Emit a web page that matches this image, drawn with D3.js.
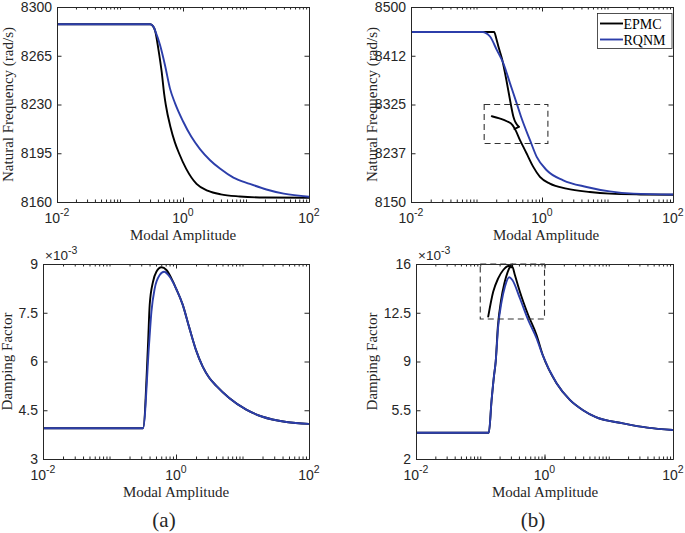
<!DOCTYPE html>
<html>
<head>
<meta charset="utf-8">
<script src="https://cdn.jsdelivr.net/npm/d3@7"></script>
<style>
  body { margin: 0; background: #fff; }
  svg { display: block; }
  .tick text { font-family: "Liberation Sans", Arial, sans-serif; font-size: 14px; fill: #262626; }
  .tick line, .domain { stroke: #262626; }
</style>
</head>
<body>
<div id="chart"></div>
<script>
// x axis (modal amplitude, log)
const xTickValues = [0.01, 1, 100];
const xTickExp = ['-2', '0', '2'];

// y ticks
const freqTicksA = [8160, 8195, 8230, 8265, 8300];
const freqLabelsA = ['8160', '8195', '8230', '8265', '8300'];
const freqTicksB = [8150, 8237.5, 8325, 8412.5, 8500];
const freqLabelsB = ['8150', '8237', '8325', '8412', '8500'];
const dampTicksA = [3, 4.5, 6, 7.5, 9];
const dampLabelsA = ['3', '4.5', '6', '7.5', '9'];
const dampTicksB = [2, 5.5, 9, 12.5, 16];
const dampLabelsB = ['2', '5.5', '9', '12.5', '16'];

// (a) natural frequency
const ampFreqA_epmc = [0.01, 0.302, 0.331, 0.361, 0.406, 0.460, 0.501, 0.532, 0.631, 0.741, 0.865, 1.12, 1.64, 2.51, 3.98, 7.94, 20.0, 100];
const freqA_epmc = [8287.6, 8287.6, 8286.5, 8283, 8270, 8253, 8238, 8230, 8214, 8203, 8195, 8184, 8173, 8168, 8165.5, 8164, 8163.2, 8163];
const ampFreqA_rqnm = [0.01, 0.302, 0.339, 0.361, 0.433, 0.519, 0.622, 0.746, 1.0, 1.35, 1.86, 2.69, 3.86, 6.31, 11.5, 21.1, 39.8, 100];
const freqA_rqnm = [8287.6, 8287.6, 8286, 8283, 8272.5, 8258, 8241.4, 8231, 8218, 8207, 8198, 8190, 8184, 8177.5, 8173, 8169, 8166, 8163.8];

// (a) damping factor (x 1e-3)
const ampDampA_epmc = [0.01, 0.319, 0.379, 0.402, 0.451, 0.507, 0.603, 0.718, 0.902, 1.0, 1.26, 1.58, 2.0, 2.51, 3.16, 4.04, 6.31, 11.4, 20.0, 45.6, 100];
const dampA_epmc = [3.944, 3.944, 6.5, 7.74, 8.455, 8.763, 8.898, 8.815, 8.455, 8.25, 7.75, 7.05, 6.35, 5.85, 5.5, 5.25, 4.88, 4.52, 4.3, 4.14, 4.08];
const ampDampA_rqnm = [0.01, 0.319, 0.393, 0.427, 0.479, 0.569, 0.661, 0.804, 1.0, 1.26, 1.58, 2.0, 2.51, 3.16, 4.04, 6.31, 11.4, 20.0, 45.6, 100];
const dampA_rqnm = [3.944, 3.944, 6.508, 7.532, 8.252, 8.662, 8.763, 8.609, 8.25, 7.75, 7.05, 6.35, 5.85, 5.5, 5.25, 4.88, 4.52, 4.3, 4.14, 4.08];

// (b) natural frequency: EPMC has an upper branch with a turning point and a lower branch
const ampFreqB_epmc1 = [0.01, 0.186, 0.200, 0.216, 0.245, 0.290, 0.325, 0.366, 0.442];
const freqB_epmc1 = [8455, 8455, 8444, 8429, 8407, 8365, 8333, 8303, 8285];
const ampFreqB_turn = [0.442, 0.380];
const freqB_turn = [8285, 8281];
const ampFreqB_epmc2 = [0.171, 0.224, 0.290, 0.355, 0.398, 0.461, 0.519, 0.583, 0.736, 0.931, 1.32, 2.37, 5.37, 10.8, 31.6, 100];
const freqB_epmc2 = [8304, 8300, 8295, 8288, 8278, 8261, 8249, 8237, 8213, 8195, 8183, 8174, 8168, 8165, 8163.5, 8163];
const ampFreqB_rqnm = [0.01, 0.126, 0.135, 0.161, 0.204, 0.257, 0.325, 0.411, 0.479, 0.656, 0.830, 1.18, 2.11, 4.79, 10.8, 25.1, 100];
const freqB_rqnm = [8455, 8455, 8454, 8447, 8423, 8399, 8363, 8327, 8303, 8261, 8231, 8207, 8189, 8177, 8169, 8165, 8163.5];

// (b) damping factor (x 1e-3)
const ampDampB_epmc1 = [0.01, 0.136, 0.150, 0.163, 0.174, 0.188, 0.211, 0.237, 0.266, 0.295, 0.316];
const dampB_epmc1 = [3.89, 3.89, 6.2, 7.9, 9.0, 11.5, 13.4, 14.6, 15.4, 15.85, 15.95];
const ampDampB_turn = [0.316, 0.302];
const dampB_turn = [15.95, 15.75];
const ampDampB_epmc2 = [0.133, 0.159, 0.190, 0.228, 0.275, 0.316, 0.346, 0.414, 0.557, 0.752, 0.933, 1.54, 2.48, 3.98, 6.31, 16.7, 39.8, 100];
const dampB_epmc2 = [12.22, 14.0, 14.97, 15.57, 15.86, 15.8, 15.21, 14.01, 12.34, 10.9, 9.5, 7.43, 6.24, 5.5, 5.0, 4.56, 4.25, 4.08];
const ampDampB_rqnm = [0.01, 0.136, 0.150, 0.163, 0.174, 0.190, 0.215, 0.242, 0.282, 0.316, 0.414, 0.557, 0.752, 0.933, 1.54, 2.48, 3.98, 6.31, 16.7, 39.8, 100];
const dampB_rqnm = [3.89, 3.89, 6.2, 7.9, 9.0, 11.5, 13.3, 14.37, 15.05, 14.85, 13.54, 11.98, 10.67, 9.47, 7.43, 6.24, 5.5, 5.0, 4.56, 4.25, 4.08];

// zoom boxes (amplitude range, value range)
const boxFreqB = [[0.131, 1.23], [8255, 8325]];
const boxDampB = [[0.1, 1.0], [12.05, 16]];

const legendNames = ['EPMC', 'RQNM'];
const colors = {EPMC: '#000000', RQNM: '#2c3eaa'};

const zip = (xs, ys) => xs.map((v, i) => ({x: v, y: ys[i]}));

const svg = d3.select('#chart').append('svg')
  .attr('width', 685)
  .attr('height', 533);

const panels = [
  {left: 57, right: 309, top: 7, bottom: 202, yDomain: [8160, 8300],
   yTicks: freqTicksA, yLabels: freqLabelsA, ytitle: 'Natural Frequency (rad/s)',
   titleX: 12.5, xtitleX: 183, xtitleY: 239.5,
   series: [
     {name: 'EPMC', pts: zip(ampFreqA_epmc, freqA_epmc)},
     {name: 'RQNM', pts: zip(ampFreqA_rqnm, freqA_rqnm)}]},
  {left: 411, right: 673, top: 7, bottom: 202, yDomain: [8150, 8500],
   yTicks: freqTicksB, yLabels: freqLabelsB, ytitle: 'Natural Frequency (rad/s)',
   titleX: 377, xtitleX: 546, xtitleY: 239.5, box: boxFreqB, legend: true,
   series: [
     {name: 'EPMC', pts: zip(ampFreqB_epmc1, freqB_epmc1)},
     {name: 'EPMC', pts: zip(ampFreqB_turn, freqB_turn), curve: d3.curveLinear},
     {name: 'EPMC', pts: zip(ampFreqB_epmc2, freqB_epmc2)},
     {name: 'RQNM', pts: zip(ampFreqB_rqnm, freqB_rqnm)}]},
  {left: 43, right: 309, top: 264, bottom: 459, yDomain: [3, 9],
   yTicks: dampTicksA, yLabels: dampLabelsA, ytitle: 'Damping Factor', exponent: true,
   titleX: 11.5, xtitleX: 176, xtitleY: 496.5, caption: '(a)', captionX: 164,
   series: [
     {name: 'EPMC', pts: zip(ampDampA_epmc, dampA_epmc)},
     {name: 'RQNM', pts: zip(ampDampA_rqnm, dampA_rqnm)}]},
  {left: 416, right: 673, top: 264, bottom: 459, yDomain: [2, 16],
   yTicks: dampTicksB, yLabels: dampLabelsB, ytitle: 'Damping Factor', exponent: true,
   titleX: 376.5, xtitleX: 545, xtitleY: 497, caption: '(b)', captionX: 533, box: boxDampB,
   series: [
     {name: 'EPMC', pts: zip(ampDampB_epmc1, dampB_epmc1)},
     {name: 'EPMC', pts: zip(ampDampB_turn, dampB_turn), curve: d3.curveLinear},
     {name: 'EPMC', pts: zip(ampDampB_epmc2, dampB_epmc2)},
     {name: 'RQNM', pts: zip(ampDampB_rqnm, dampB_rqnm)}]}
];

panels.forEach((p, pi) => {
  const x = d3.scaleLog().domain([0.01, 100]).range([p.left, p.right]);
  const y = d3.scaleLinear().domain(p.yDomain).range([p.bottom, p.top]);
  const g = svg.append('g');
  const minor = x.ticks();

  // clip
  svg.append('clipPath').attr('id', 'clip' + pi)
    .append('rect')
    .attr('x', p.left).attr('y', p.top - 1)
    .attr('width', p.right - p.left).attr('height', p.bottom - p.top + 1);

  // lines
  const plot = g.append('g').attr('clip-path', 'url(#clip' + pi + ')');
  p.series.forEach(s => {
    const line = d3.line()
      .x(d => x(d.x))
      .y(d => y(d.y))
      .curve(s.curve || d3.curveMonotoneX);
    plot.append('path')
      .attr('d', line(s.pts))
      .attr('fill', 'none')
      .attr('stroke', colors[s.name])
      .attr('stroke-width', 1.9)
      .attr('stroke-linejoin', 'round')
      .attr('stroke-linecap', 'round');
  });

  // axes: ticks inward on all four sides
  g.append('g').attr('transform', 'translate(0,' + p.bottom + ')')
    .call(d3.axisBottom(x).tickValues(minor).tickSizeInner(-2.5).tickSizeOuter(0).tickFormat(''));
  g.append('g').attr('transform', 'translate(0,' + p.top + ')')
    .call(d3.axisTop(x).tickValues(minor).tickSizeInner(-2.5).tickSizeOuter(0).tickFormat(''));
  g.append('g').attr('transform', 'translate(0,' + p.bottom + ')')
    .call(d3.axisBottom(x).tickValues(xTickValues).tickSizeInner(-4.5).tickSizeOuter(0).tickFormat(''));
  g.append('g').attr('transform', 'translate(0,' + p.top + ')')
    .call(d3.axisTop(x).tickValues(xTickValues).tickSizeInner(-4.5).tickSizeOuter(0).tickFormat(''));
  g.append('g').attr('transform', 'translate(' + p.left + ',0)')
    .call(d3.axisLeft(y).tickValues(p.yTicks).tickSizeInner(-4.5).tickSizeOuter(0).tickPadding(5)
      .tickFormat((d, i) => p.yLabels[i]));
  g.append('g').attr('transform', 'translate(' + p.right + ',0)')
    .call(d3.axisRight(y).tickValues(p.yTicks).tickSizeInner(-4.5).tickSizeOuter(0).tickFormat(''));

  // x tick labels 10^k
  g.selectAll('text.xl').data(xTickValues).join('text')
    .attr('class', 'xl')
    .attr('x', d => x(d))
    .attr('y', p.bottom + 21)
    .attr('text-anchor', 'middle')
    .attr('font-family', 'Liberation Sans, Arial, sans-serif')
    .attr('font-size', 14)
    .attr('fill', '#262626')
    .each(function(d, i) {
      const t = d3.select(this);
      t.append('tspan').text('10');
      t.append('tspan').attr('dy', -7).attr('font-size', 10.5).text(xTickExp[i]);
    });

  if (p.exponent) {
    const t = g.append('text')
      .attr('x', p.left + 2)
      .attr('y', p.top - 4)
      .attr('font-family', 'Liberation Sans, Arial, sans-serif')
      .attr('font-size', 13.5)
      .attr('fill', '#262626');
    t.append('tspan').text('\u00d710');
    t.append('tspan').attr('dy', -6).attr('font-size', 10.5).text('-3');
  }

  // dashed zoom box
  if (p.box) {
    g.append('rect')
      .attr('x', x(p.box[0][0]))
      .attr('y', y(p.box[1][1]))
      .attr('width', x(p.box[0][1]) - x(p.box[0][0]))
      .attr('height', y(p.box[1][0]) - y(p.box[1][1]))
      .attr('fill', 'none')
      .attr('stroke', '#333')
      .attr('stroke-width', 1.1)
      .attr('stroke-dasharray', '6,4');
  }

  // titles
  g.append('text')
    .attr('x', p.xtitleX).attr('y', p.xtitleY)
    .attr('text-anchor', 'middle')
    .attr('font-family', 'Liberation Serif, serif')
    .attr('font-size', 15)
    .attr('fill', '#262626')
    .text('Modal Amplitude');
  g.append('text')
    .attr('transform', 'translate(' + p.titleX + ',' + ((p.top + p.bottom) / 2) + ') rotate(-90)')
    .attr('text-anchor', 'middle')
    .attr('font-family', 'Liberation Serif, serif')
    .attr('font-size', 15)
    .attr('fill', '#262626')
    .text(p.ytitle);
  if (p.caption) {
    g.append('text')
      .attr('x', p.captionX).attr('y', 527)
      .attr('text-anchor', 'middle')
      .attr('font-family', 'Liberation Serif, serif')
      .attr('font-size', 21)
      .attr('fill', '#262626')
      .text(p.caption);
  }

  // legend
  if (p.legend) {
    const lg = g.append('g');
    lg.append('rect')
      .attr('x', 597.5).attr('y', 13.5)
      .attr('width', 74.5).attr('height', 35)
      .attr('fill', '#fff')
      .attr('stroke', '#262626')
      .attr('stroke-width', 0.8);
    legendNames.forEach((name, i) => {
      const yy = 23.5 + i * 16;
      lg.append('line')
        .attr('x1', 600).attr('x2', 623)
        .attr('y1', yy).attr('y2', yy)
        .attr('stroke', colors[name])
        .attr('stroke-width', 1.9);
      lg.append('text')
        .attr('x', 623.5).attr('y', yy + 5)
        .attr('font-family', 'Liberation Serif, serif')
        .attr('font-size', 14)
        .attr('fill', '#000')
        .text(name);
    });
  }
});
</script>
</body>
</html>
